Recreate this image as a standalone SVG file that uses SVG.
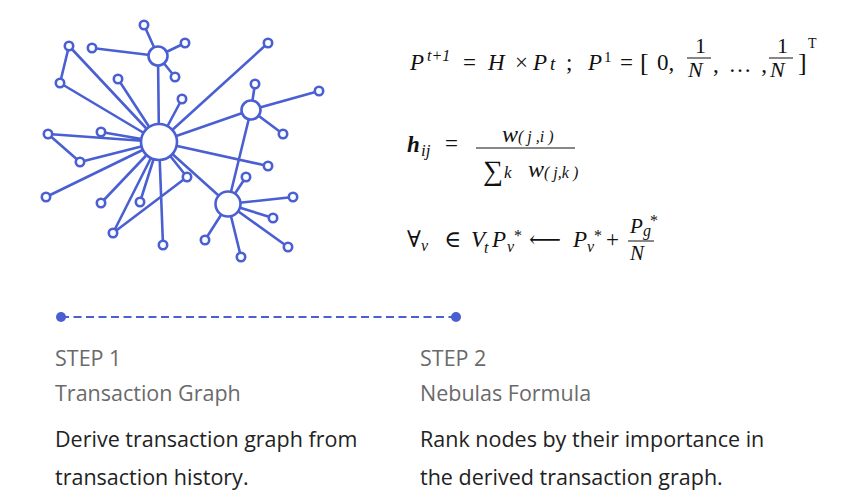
<svg xmlns="http://www.w3.org/2000/svg" width="846" height="504" viewBox="0 0 846 504">
<style>
.e{stroke:#4a5fd2;stroke-width:2.6;fill:none;stroke-linecap:round}
.n{stroke:#4a5fd2;stroke-width:2.6;fill:#fff}
.m{font-family:"Liberation Serif","DejaVu Serif",serif;fill:#111;font-size:23px}
.i{font-style:italic}
.s{font-size:16px}
.lab{font-family:"Open Sans","Liberation Sans",sans-serif;font-size:21.5px;fill:#6a6a6a}
.body{font-family:"Open Sans","Liberation Sans",sans-serif;font-size:21.5px;fill:#222}
</style>
<rect width="846" height="504" fill="#fff"/>
<g id="connectors">
<path class="e" d="M159 142L158 56M159 142L251 110M159 142L228 204M251 110L228 204
M158 56L144 25M158 56L185 43M158 56L92 48M158 56L175 77
M69 46L60 83M69 46L159 142M60 83L159 142
M159 142L118 79M159 142L182 99M159 142L268 43
M251 110L255 84M251 110L319 91M251 110L283 134
M48 134L159 142M48 134L80 162M80 162L159 142M101 132L159 142
M159 142L46 197M159 142L101 203M159 142L140 202M159 142L113 233M113 233L187 177M159 142L187 177M159 142L163 245M159 142L268 166
M228 204L246 177M228 204L293 197M228 204L273 218M228 204L288 247M228 204L241 257M228 204L205 240"/>
</g>
<g id="hubs">
<circle id="c0" class="n" cx="159" cy="142" r="18"/>
<circle id="c1" class="n" cx="158" cy="56" r="9.5"/>
<circle id="c2" class="n" cx="251" cy="110" r="9.5"/>
<circle id="c3" class="n" cx="228" cy="204" r="12.5"/>
</g>
<g id="leaves">
<circle class="n" cx="144" cy="25" r="4.2"/>
<circle class="n" cx="185" cy="43" r="4.2"/>
<circle class="n" cx="92" cy="48" r="4.2"/>
<circle class="n" cx="175" cy="77" r="4.2"/>
<circle class="n" cx="69" cy="46" r="4.2"/>
<circle class="n" cx="60" cy="83" r="4.2"/>
<circle class="n" cx="118" cy="79" r="4.2"/>
<circle class="n" cx="182" cy="99" r="4.2"/>
<circle class="n" cx="268" cy="43" r="4.2"/>
<circle class="n" cx="255" cy="84" r="4.2"/>
<circle class="n" cx="319" cy="91" r="4.2"/>
<circle class="n" cx="283" cy="134" r="4.2"/>
<circle class="n" cx="48" cy="134" r="4.2"/>
<circle class="n" cx="101" cy="132" r="4.2"/>
<circle class="n" cx="80" cy="162" r="4.2"/>
<circle class="n" cx="46" cy="197" r="4.2"/>
<circle class="n" cx="101" cy="203" r="4.2"/>
<circle class="n" cx="140" cy="202" r="4.2"/>
<circle class="n" cx="113" cy="233" r="4.2"/>
<circle class="n" cx="187" cy="177" r="4.2"/>
<circle class="n" cx="163" cy="245" r="4.2"/>
<circle class="n" cx="268" cy="166" r="4.2"/>
<circle class="n" cx="246" cy="177" r="4.2"/>
<circle class="n" cx="293" cy="197" r="4.2"/>
<circle class="n" cx="273" cy="218" r="4.2"/>
<circle class="n" cx="288" cy="247" r="4.2"/>
<circle class="n" cx="241" cy="257" r="4.2"/>
<circle class="n" cx="205" cy="240" r="4.2"/>
</g>
<g id="formula1">
<text x="410" y="70" class="m i">P</text>
<text x="427" y="61" class="m i" style="font-size:16px">t+1</text>
<text x="463" y="70" class="m">=</text>
<text x="488" y="70" class="m i">H</text>
<text x="515" y="70" class="m">×</text>
<text x="533" y="70" class="m i">P</text>
<text x="550" y="70" class="m i" style="font-size:19px">t</text>
<text x="566" y="70" class="m">;</text>
<text x="588" y="70" class="m i">P</text>
<text x="604" y="62" class="m" style="font-size:15px">1</text>
<text x="620" y="70" class="m">=</text>
<text x="640" y="71" class="m" style="font-size:26px">[</text>
<text x="657" y="70" class="m">0,</text>
<text x="695" y="53" class="m" style="font-size:22px">1</text>
<line x1="687" y1="58" x2="711" y2="58" stroke="#111" stroke-width="1"/>
<text x="688" y="77" class="m i" style="font-size:22px">N</text>
<text x="713" y="72" class="m" textLength="54" lengthAdjust="spacing">, … ,</text>
<text x="777" y="53" class="m" style="font-size:22px">1</text>
<line x1="769" y1="58" x2="793" y2="58" stroke="#111" stroke-width="1"/>
<text x="770" y="77" class="m i" style="font-size:22px">N</text>
<text x="798" y="71" class="m" style="font-size:26px">]</text>
<text x="808" y="48" class="m" style="font-size:14px">T</text>
</g>
<g id="formula2">
<text x="407" y="152" class="m i" style="font-size:23px;font-weight:bold">h</text>
<text x="421" y="156" class="m i s" style="font-size:17px">ij</text>
<text x="445" y="151" class="m">=</text>
<text x="502" y="142" class="m i" style="font-size:24px">w</text>
<text x="518" y="142" class="m i s">( j ,i )</text>
<line x1="476" y1="148" x2="575" y2="148" stroke="#111" stroke-width="1"/>
<text x="483" y="180" class="m" style="font-size:28px">∑</text>
<text x="504" y="178" class="m i" style="font-size:17px">k</text>
<text x="528" y="177" class="m i" style="font-size:24px">w</text>
<text x="544" y="178" class="m i s">( j,k )</text>
</g>
<g id="formula3">
<text x="407" y="247" class="m">∀</text>
<text x="421" y="251" class="m i s">v</text>
<text x="444" y="247" class="m">∈</text>
<text x="471" y="247" class="m i">V</text>
<text x="484" y="253" class="m i s">t</text>
<text x="492" y="247" class="m i">P</text>
<text x="507" y="252" class="m i s">v</text>
<text x="514" y="241" class="m s">*</text>
<text x="529" y="247" class="m" textLength="32" lengthAdjust="spacingAndGlyphs">⟵</text>
<text x="573" y="247" class="m i">P</text>
<text x="587" y="252" class="m i s">v</text>
<text x="594" y="241" class="m s">*</text>
<text x="606" y="247" class="m">+</text>
<text x="630" y="233" class="m i" style="font-size:21px">P</text>
<text x="643" y="236" class="m i s">g</text>
<text x="650" y="226" class="m s">*</text>
<line x1="628" y1="241" x2="654" y2="241" stroke="#111" stroke-width="1"/>
<text x="630" y="260" class="m i" style="font-size:21px">N</text>
</g>
<g id="timeline">
<line x1="61" y1="317" x2="456" y2="317" stroke="#4a5fd2" stroke-width="2" stroke-dasharray="8 4.5"/>
<circle cx="61" cy="317" r="5" fill="#4a5fd2"/>
<circle cx="456" cy="317" r="5" fill="#4a5fd2"/>
</g>
<g id="step1">
<text x="55" y="366" class="lab">STEP 1</text>
<text x="55" y="401" class="lab">Transaction Graph</text>
<text x="55" y="447" class="body">Derive transaction graph from</text>
<text x="55" y="485" class="body">transaction history.</text>
</g>
<g id="step2">
<text x="420" y="366" class="lab">STEP 2</text>
<text x="420" y="401" class="lab">Nebulas Formula</text>
<text x="420" y="447" class="body">Rank nodes by their importance in</text>
<text x="420" y="485" class="body">the derived transaction graph.</text>
</g>
</svg>
